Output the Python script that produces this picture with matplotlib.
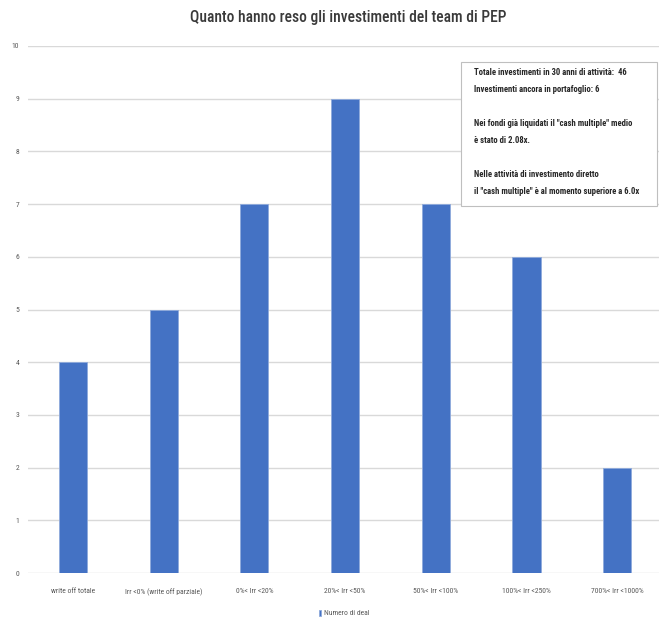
import matplotlib.pyplot as plt

# dati
categorie = ["write off totale", "Irr <0% (write off parziale)", "0%< Irr <20%",
             "20%< Irr <50%", "50%< Irr <100%", "100%< Irr <250%", "700%< Irr <1000%"]
numero_deal = [4, 5, 7, 9, 7, 6, 2]
tick_y = list(range(0, 11))

plt.rcParams['font.family'] = ['Roboto Condensed', 'DejaVu Sans']

fig = plt.figure(figsize=(6.59, 6.28), dpi=100)
ax = fig.add_axes([27.6 / 659, 55 / 628, (659 - 27.6) / 659, 527 / 628])

x = list(range(len(categorie)))
ax.bar(x, numero_deal, width=0.31, color="#4472C4", label="Numero di deal", zorder=3,
       edgecolor="#8faadc", linewidth=0.6)
ax.set_ylim(0, 10)
ax.set_xlim(-0.5, 6.46)
ax.set_yticks(tick_y)
ax.set_xticks(x)
ax.set_xticklabels(categorie, fontsize=5.5, color="#595959")
ax.tick_params(axis='y', labelsize=5.5, labelcolor="#595959", length=0, pad=6)
ax.tick_params(axis='x', length=0, pad=11)
ax.grid(axis='y', color="#d9d9d9", linewidth=1, zorder=0)
for s in ax.spines.values():
    s.set_visible(False)

fig.text(0.528, 0.972, "Quanto hanno reso gli investimenti del team di PEP",
         ha="center", va="center", fontsize=11.2, color="#3a3a3a", fontweight="medium")

fig.legend(loc="center", bbox_to_anchor=(0.522, 0.024), frameon=False, fontsize=5.5,
           handlelength=0.35, handleheight=0.9, handletextpad=0.3, labelcolor="#595959")

testo = ("Totale investimenti in 30 anni di attività:  46\n"
         "Investimenti ancora in portafoglio: 6\n\n"
         "Nei fondi già liquidati il \"cash multiple\" medio\n"
         "è stato di 2.08x.\n\n"
         "Nelle attività di investimento diretto\n"
         "il \"cash multiple\" è al momento superiore a 6.0x")
fig.patches.append(plt.Rectangle((461 / 659, 1 - 206 / 628), 196 / 659, 144 / 628,
                                 transform=fig.transFigure, facecolor="white",
                                 edgecolor="#bfbfbf", linewidth=0.8, zorder=5))
fig.text(474 / 659, 1 - 68 / 628, testo, ha="left", va="top", fontsize=6.2,
         fontweight="bold", color="#262626", linespacing=2.15, zorder=6)

plt.savefig("out.png", dpi=100)
